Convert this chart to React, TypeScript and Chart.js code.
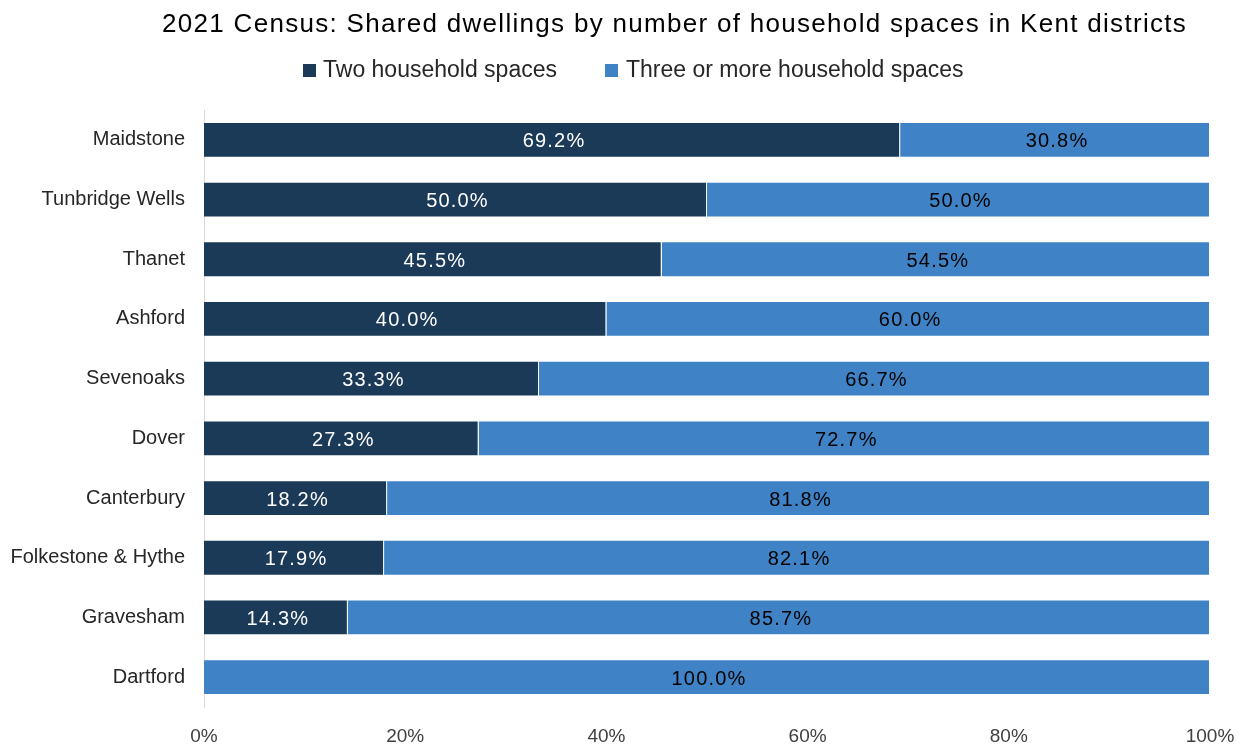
import React, { useEffect, useRef } from "react";
import { Chart, registerables } from "chart.js";

Chart.register(...registerables);

const categories = [
  "Maidstone",
  "Tunbridge Wells",
  "Thanet",
  "Ashford",
  "Sevenoaks",
  "Dover",
  "Canterbury",
  "Folkestone & Hythe",
  "Gravesham",
  "Dartford",
];
const twoSpaces = [69.2, 50.0, 45.5, 40.0, 33.3, 27.3, 18.2, 17.9, 14.3, 0];
const threeOrMore = [30.8, 50.0, 54.5, 60.0, 66.7, 72.7, 81.8, 82.1, 85.7, 100.0];
const xTicks = [0, 20, 40, 60, 80, 100];
const seriesNames = ["Two household spaces", "Three or more household spaces"];
const seriesColors = ["#1a3a57", "#3f83c6"];
const titleText = "2021 Census: Shared dwellings by number of household spaces in Kent districts";

const FONT = "'Liberation Sans', Arial, sans-serif";

const labelPlugin = {
  id: "segLabels",
  afterDatasetsDraw(chart: any) {
    const ctx = chart.ctx;
    ctx.save();
    ctx.font = `20px ${FONT}`;
    (ctx as any).letterSpacing = "1.2px";
    ctx.textAlign = "center";
    ctx.textBaseline = "middle";
    chart.data.datasets.forEach((ds: any, di: number) => {
      const meta = chart.getDatasetMeta(di);
      meta.data.forEach((bar: any, i: number) => {
        const v = ds.data[i];
        if (!v) return;
        const x0 = Math.min(bar.x, bar.base);
        const x1 = Math.max(bar.x, bar.base);
        ctx.fillStyle = di === 0 ? "#ffffff" : "#000000";
        ctx.fillText(v.toFixed(1) + "%", (x0 + x1) / 2 + 2, bar.y + 2);
      });
    });
    ctx.restore();
  },
};

export default function App() {
  const ref = useRef<HTMLCanvasElement>(null);
  useEffect(() => {
    const chart = new Chart(ref.current!, {
      type: "bar",
      data: {
        labels: categories,
        datasets: [
          {
            label: seriesNames[0],
            data: twoSpaces,
            backgroundColor: seriesColors[0],
            borderColor: "rgba(255,255,255,0.45)",
            borderWidth: 1,
            barPercentage: 0.6,
            categoryPercentage: 1,
          },
          {
            label: seriesNames[1],
            data: threeOrMore,
            backgroundColor: seriesColors[1],
            borderColor: "rgba(255,255,255,0.45)",
            borderWidth: 1,
            barPercentage: 0.6,
            categoryPercentage: 1,
          },
        ],
      },
      options: {
        indexAxis: "y",
        animation: false,
        responsive: false,
        maintainAspectRatio: false,
        layout: { padding: { left: 10, right: 35, top: 110, bottom: 0 } },
        plugins: {
          title: { display: false },
          legend: { display: false },
          tooltip: { enabled: false },
        },
        scales: {
          x: {
            stacked: true,
            min: 0,
            max: 100,
            afterBuildTicks: (axis: any) => {
              axis.ticks = xTicks.map((v) => ({ value: v }));
            },
            afterFit: (axis: any) => {
              axis.height = 37;
              axis.paddingLeft = 0;
              axis.paddingRight = 0;
            },
            grid: { display: false, drawTicks: false },
            border: { display: false },
            ticks: {
              color: "#404040",
              font: { family: FONT, size: 19, lineHeight: 1 },
              padding: 20,
              maxRotation: 0,
              callback: (v: any) => v + "%",
            },
          },
          y: {
            stacked: true,
            afterFit: (axis: any) => {
              axis.width = 194;
            },
            grid: { display: false, drawTicks: false },
            border: { display: true, color: "#d9d9d9", width: 1 },
            ticks: {
              color: "#262626",
              font: { family: FONT, size: 20 },
              padding: 19,
            },
          },
        },
      },
      plugins: [labelPlugin],
    });
    return () => chart.destroy();
  }, []);

  const textStyle: React.CSSProperties = {
    position: "absolute",
    fontFamily: FONT,
    whiteSpace: "nowrap",
  };

  return (
    <div style={{ position: "absolute", left: 0, top: 0, width: 1245, height: 744, background: "#fff", overflow: "hidden" }}>
      <canvas ref={ref} width={1245} height={744} style={{ position: "absolute", left: 0, top: 0 }} />
      <div
        style={{
          ...textStyle,
          left: 162,
          top: 10,
          fontSize: 26,
          lineHeight: "26px",
          letterSpacing: "1.3px",
          color: "#000",
        }}
      >
        {titleText}
      </div>
      <div style={{ position: "absolute", left: 303, top: 64, width: 13, height: 13, background: seriesColors[0] }} />
      <div style={{ ...textStyle, left: 323, top: 58, fontSize: 23, lineHeight: "23px", color: "#262626" }}>
        {seriesNames[0]}
      </div>
      <div style={{ position: "absolute", left: 605, top: 64, width: 13, height: 13, background: seriesColors[1] }} />
      <div style={{ ...textStyle, left: 626, top: 58, fontSize: 23, lineHeight: "23px", color: "#262626" }}>
        {seriesNames[1]}
      </div>
    </div>
  );
}
